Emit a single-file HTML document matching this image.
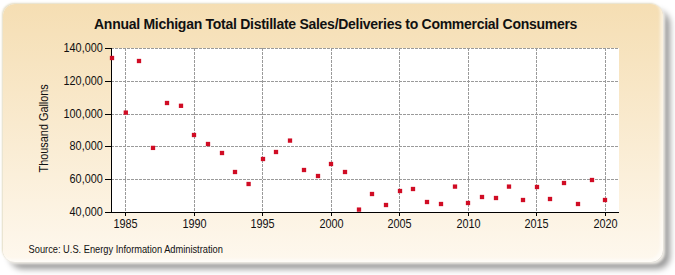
<!DOCTYPE html>
<html><head><meta charset="utf-8"><style>
html,body{margin:0;padding:0;width:675px;height:275px;background:#fff;overflow:hidden}
.shadow{position:absolute;left:10px;top:11px;width:660px;height:258px;border-radius:13px;background:rgba(0,0,0,0.4);filter:blur(3px)}
.panel{position:absolute;left:3px;top:4px;width:660px;height:258px;border-radius:12px;
background:linear-gradient(to bottom,#f5deb3 0%,#fef8ee 100%);box-shadow:inset -3px -3px 3px rgba(255,255,255,0.55),-1px -1px 2px 0px rgba(190,175,120,0.45),2px 2px 3px rgba(255,252,245,0.9)}
svg{position:absolute;left:0;top:0}
text{font-family:"Liberation Sans",sans-serif;fill:#111}
.t{font-size:10.8px}
.ax{font-size:12.5px}
.title{font-size:14px;font-weight:bold;fill:#111;letter-spacing:-0.274px}
.src{font-size:10.2px}
</style></head><body>
<div class="shadow"></div><div class="panel"></div>
<svg width="675" height="275" viewBox="0 0 675 275">
<rect x="111" y="48" width="508" height="164" fill="#ffffff"/>
<line x1="125.5" y1="48" x2="125.5" y2="212" stroke="#9a9a9a" stroke-width="1" stroke-dasharray="3,1"/>
<line x1="194.5" y1="48" x2="194.5" y2="212" stroke="#9a9a9a" stroke-width="1" stroke-dasharray="3,1"/>
<line x1="262.5" y1="48" x2="262.5" y2="212" stroke="#9a9a9a" stroke-width="1" stroke-dasharray="3,1"/>
<line x1="331.5" y1="48" x2="331.5" y2="212" stroke="#9a9a9a" stroke-width="1" stroke-dasharray="3,1"/>
<line x1="399.5" y1="48" x2="399.5" y2="212" stroke="#9a9a9a" stroke-width="1" stroke-dasharray="3,1"/>
<line x1="468.5" y1="48" x2="468.5" y2="212" stroke="#9a9a9a" stroke-width="1" stroke-dasharray="3,1"/>
<line x1="536.5" y1="48" x2="536.5" y2="212" stroke="#9a9a9a" stroke-width="1" stroke-dasharray="3,1"/>
<line x1="605.5" y1="48" x2="605.5" y2="212" stroke="#9a9a9a" stroke-width="1" stroke-dasharray="3,1"/>
<line x1="111" y1="48.5" x2="619" y2="48.5" stroke="#9a9a9a" stroke-width="1" stroke-dasharray="3,1"/>
<line x1="111" y1="81.5" x2="619" y2="81.5" stroke="#9a9a9a" stroke-width="1" stroke-dasharray="3,1"/>
<line x1="111" y1="114.5" x2="619" y2="114.5" stroke="#9a9a9a" stroke-width="1" stroke-dasharray="3,1"/>
<line x1="111" y1="146.5" x2="619" y2="146.5" stroke="#9a9a9a" stroke-width="1" stroke-dasharray="3,1"/>
<line x1="111" y1="179.5" x2="619" y2="179.5" stroke="#9a9a9a" stroke-width="1" stroke-dasharray="3,1"/>
<line x1="111.5" y1="48" x2="111.5" y2="213" stroke="#000" stroke-width="1"/>
<line x1="111" y1="212.5" x2="619" y2="212.5" stroke="#000" stroke-width="1"/>
<line x1="105" y1="48.5" x2="111" y2="48.5" stroke="#000" stroke-width="1"/>
<line x1="105" y1="81.5" x2="111" y2="81.5" stroke="#000" stroke-width="1"/>
<line x1="105" y1="114.5" x2="111" y2="114.5" stroke="#000" stroke-width="1"/>
<line x1="105" y1="146.5" x2="111" y2="146.5" stroke="#000" stroke-width="1"/>
<line x1="105" y1="179.5" x2="111" y2="179.5" stroke="#000" stroke-width="1"/>
<line x1="105" y1="212.5" x2="111" y2="212.5" stroke="#000" stroke-width="1"/>
<line x1="125.5" y1="212" x2="125.5" y2="216" stroke="#000" stroke-width="1"/>
<line x1="194.5" y1="212" x2="194.5" y2="216" stroke="#000" stroke-width="1"/>
<line x1="262.5" y1="212" x2="262.5" y2="216" stroke="#000" stroke-width="1"/>
<line x1="331.5" y1="212" x2="331.5" y2="216" stroke="#000" stroke-width="1"/>
<line x1="399.5" y1="212" x2="399.5" y2="216" stroke="#000" stroke-width="1"/>
<line x1="468.5" y1="212" x2="468.5" y2="216" stroke="#000" stroke-width="1"/>
<line x1="536.5" y1="212" x2="536.5" y2="216" stroke="#000" stroke-width="1"/>
<line x1="605.5" y1="212" x2="605.5" y2="216" stroke="#000" stroke-width="1"/>
<rect x="109.85" y="55.85" width="4.3" height="4.3" fill="#d00c24"/>
<rect x="123.65" y="110.45" width="4.3" height="4.3" fill="#d00c24"/>
<rect x="136.85" y="58.85" width="4.3" height="4.3" fill="#d00c24"/>
<rect x="150.85" y="145.75" width="4.3" height="4.3" fill="#d00c24"/>
<rect x="164.85" y="100.85" width="4.3" height="4.3" fill="#d00c24"/>
<rect x="178.85" y="103.65" width="4.3" height="4.3" fill="#d00c24"/>
<rect x="191.85" y="132.85" width="4.3" height="4.3" fill="#d00c24"/>
<rect x="205.85" y="141.85" width="4.3" height="4.3" fill="#d00c24"/>
<rect x="219.85" y="150.85" width="4.3" height="4.3" fill="#d00c24"/>
<rect x="232.85" y="169.85" width="4.3" height="4.3" fill="#d00c24"/>
<rect x="246.45" y="181.85" width="4.3" height="4.3" fill="#d00c24"/>
<rect x="260.85" y="156.85" width="4.3" height="4.3" fill="#d00c24"/>
<rect x="273.85" y="149.85" width="4.3" height="4.3" fill="#d00c24"/>
<rect x="287.85" y="138.45" width="4.3" height="4.3" fill="#d00c24"/>
<rect x="301.85" y="167.85" width="4.3" height="4.3" fill="#d00c24"/>
<rect x="315.85" y="173.85" width="4.3" height="4.3" fill="#d00c24"/>
<rect x="328.85" y="161.85" width="4.3" height="4.3" fill="#d00c24"/>
<rect x="342.85" y="169.85" width="4.3" height="4.3" fill="#d00c24"/>
<rect x="356.85" y="207.45" width="4.3" height="4.3" fill="#d00c24"/>
<rect x="369.85" y="191.85" width="4.3" height="4.3" fill="#d00c24"/>
<rect x="383.85" y="202.85" width="4.3" height="4.3" fill="#d00c24"/>
<rect x="397.85" y="188.85" width="4.3" height="4.3" fill="#d00c24"/>
<rect x="410.85" y="186.85" width="4.3" height="4.3" fill="#d00c24"/>
<rect x="424.85" y="199.85" width="4.3" height="4.3" fill="#d00c24"/>
<rect x="438.85" y="201.85" width="4.3" height="4.3" fill="#d00c24"/>
<rect x="452.85" y="184.45" width="4.3" height="4.3" fill="#d00c24"/>
<rect x="465.85" y="200.85" width="4.3" height="4.3" fill="#d00c24"/>
<rect x="479.85" y="194.85" width="4.3" height="4.3" fill="#d00c24"/>
<rect x="493.85" y="195.85" width="4.3" height="4.3" fill="#d00c24"/>
<rect x="506.85" y="184.45" width="4.3" height="4.3" fill="#d00c24"/>
<rect x="520.85" y="197.85" width="4.3" height="4.3" fill="#d00c24"/>
<rect x="534.85" y="184.85" width="4.3" height="4.3" fill="#d00c24"/>
<rect x="547.85" y="196.85" width="4.3" height="4.3" fill="#d00c24"/>
<rect x="561.85" y="180.85" width="4.3" height="4.3" fill="#d00c24"/>
<rect x="575.85" y="201.85" width="4.3" height="4.3" fill="#d00c24"/>
<rect x="589.85" y="177.85" width="4.3" height="4.3" fill="#d00c24"/>
<rect x="602.85" y="197.85" width="4.3" height="4.3" fill="#d00c24"/>
<text transform="translate(102.8,51.9) scale(0.87,1)" text-anchor="end" class="ax">140,000</text>
<text transform="translate(102.8,84.9) scale(0.87,1)" text-anchor="end" class="ax">120,000</text>
<text transform="translate(102.8,117.9) scale(0.87,1)" text-anchor="end" class="ax">100,000</text>
<text transform="translate(102.8,149.9) scale(0.87,1)" text-anchor="end" class="ax">80,000</text>
<text transform="translate(102.8,182.9) scale(0.87,1)" text-anchor="end" class="ax">60,000</text>
<text transform="translate(102.8,215.9) scale(0.87,1)" text-anchor="end" class="ax">40,000</text>
<text transform="translate(125.5,227.7) scale(0.87,1)" text-anchor="middle" class="ax">1985</text>
<text transform="translate(194.5,227.7) scale(0.87,1)" text-anchor="middle" class="ax">1990</text>
<text transform="translate(262.5,227.7) scale(0.87,1)" text-anchor="middle" class="ax">1995</text>
<text transform="translate(331.5,227.7) scale(0.87,1)" text-anchor="middle" class="ax">2000</text>
<text transform="translate(399.5,227.7) scale(0.87,1)" text-anchor="middle" class="ax">2005</text>
<text transform="translate(468.5,227.7) scale(0.87,1)" text-anchor="middle" class="ax">2010</text>
<text transform="translate(536.5,227.7) scale(0.87,1)" text-anchor="middle" class="ax">2015</text>
<text transform="translate(605.5,227.7) scale(0.87,1)" text-anchor="middle" class="ax">2020</text>
<text x="0" y="0" transform="translate(48,128.3) rotate(-90) scale(0.87,1)" text-anchor="middle" class="ax">Thousand Gallons</text>
<text x="335.6" y="29" text-anchor="middle" class="title">Annual Michigan Total Distillate Sales/Deliveries to Commercial Consumers</text>
<text x="28.6" y="252.7" class="src" textLength="194.3" lengthAdjust="spacingAndGlyphs">Source: U.S. Energy Information Administration</text>
</svg>
</body></html>
